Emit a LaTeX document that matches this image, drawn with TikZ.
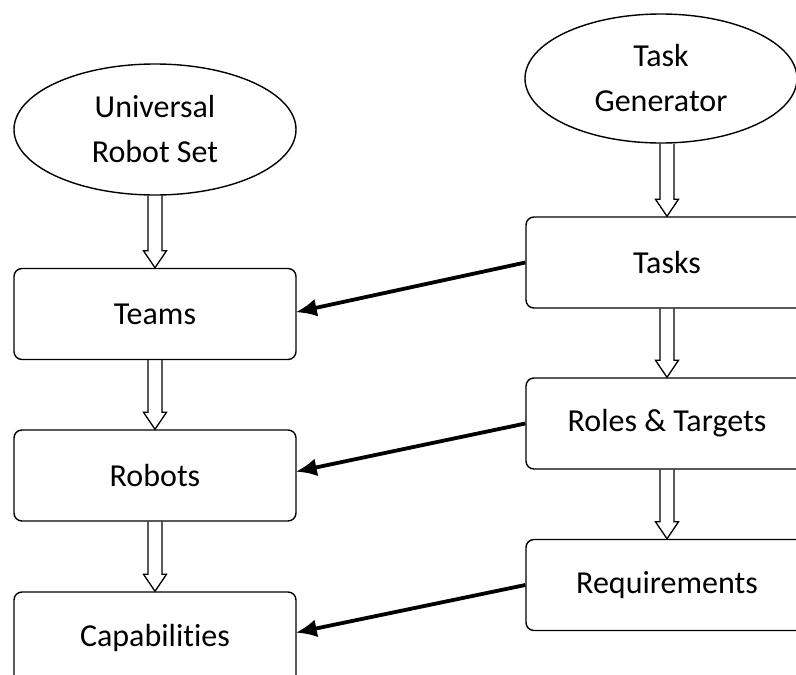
\documentclass[tikz,border=0pt]{standalone}
\usepackage{fontspec}
\setmainfont[Ligatures={NoCommon}]{Carlito}
\usetikzlibrary{shapes.geometric,arrows.meta,calc}
\tikzset{
  box/.style={draw, line width=1.4pt, rounded corners=8pt, minimum width=282pt, minimum height=91pt, inner sep=0pt, font=\fontsize{32}{45}\selectfont},
  oval/.style={draw, line width=1.4pt, ellipse, inner sep=0pt, align=center, font=\fontsize{32}{45}\selectfont},
  hollow/.style={draw, line width=1.3pt, line join=miter},
  link/.style={line width=3.8pt, -{Latex[length=21pt,width=18pt]}, shorten >=-1pt}
}
\newcommand{\harrow}[2]{\draw[hollow] ($(#1.south -| #2.north)+(-7,0)$) -- ($(#2.north)+(-7,-17)$) -- ($(#2.north)+(-11.5,-17)$) -- (#2.north) -- ($(#2.north)+(11.5,-17)$) -- ($(#2.north)+(7,-17)$) -- ($(#1.south -| #2.north)+(7,0)$);}
\begin{document}
\begin{tikzpicture}[x=1pt,y=-1pt]
\useasboundingbox (0,0) rectangle (796,675);
\clip (0,0) rectangle (796,675);
\node[oval, minimum width=282pt, minimum height=131pt] (urs) at (155,129.5) {Universal\\Robot Set};
\node[oval, minimum width=272pt, minimum height=129pt] (tg) at (661,78.5) {Task\\Generator};
\node[box] (teams) at (155,314) {Teams};
\node[box] (robots) at (155,475.5) {Robots};
\node[box] (caps) at (155,637.5) {Capabilities};
\node[box] (tasks) at (667,262.5) {Tasks};
\node[box] (roles) at (667,423.5) {Roles \& Targets};
\node[box] (reqs) at (667,585) {Requirements};
\harrow{urs}{teams}
\harrow{teams}{robots}
\harrow{robots}{caps}
\harrow{tg}{tasks}
\harrow{tasks}{roles}
\harrow{roles}{reqs}
\draw[link] (tasks.west) -- ($(teams.east)+(0,-2)$);
\draw[link] (roles.west) -- ($(robots.east)+(0,-4)$);
\draw[link] (reqs.west) -- ($(caps.east)+(0,-5)$);
\end{tikzpicture}
\end{document}
